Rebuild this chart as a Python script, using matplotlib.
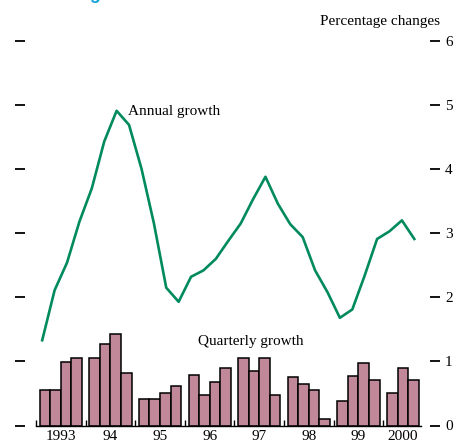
import matplotlib.pyplot as plt
from matplotlib.ticker import FixedLocator, NullFormatter

plt.rcParams['font.family'] = ['Liberation Serif', 'DejaVu Serif']

# quarterly data, 1993Q1 .. 2000Q3
years = [1993, 1994, 1995, 1996, 1997, 1998, 1999, 2000]
year_labels = ['1993', '94', '95', '96', '97', '98', '99', '2000']

quarterly = [0.55, 0.55, 0.99, 1.05,
             1.05, 1.27, 1.43, 0.82,
             0.41, 0.41, 0.51, 0.61,
             0.79, 0.47, 0.68, 0.89,
             1.05, 0.85, 1.05, 0.47,
             0.75, 0.65, 0.55, 0.10,
             0.38, 0.78, 0.98, 0.71,
             0.51, 0.89, 0.71]

annual = [1.33, 2.11, 2.54, 3.18,
          3.70, 4.43, 4.91, 4.69,
          4.01, 3.16, 2.15, 1.93,
          2.32, 2.42, 2.60, 2.88,
          3.15, 3.53, 3.88, 3.46,
          3.14, 2.94, 2.42, 2.08,
          1.68, 1.81, 2.34, 2.91,
          3.03, 3.20, 2.91]

green = '#008a5e'
mauve = '#c08898'

W, H = 456, 441
px = 72 / 100  # pixels -> points
fig = plt.figure(figsize=(W / 100, H / 100), dpi=100)
ax = fig.add_axes([36 / W, (H - 425.5) / H, 385 / W, 384.6 / H])

# bars: 4 per year, small gap between years
inset = 0.075
bw = (1 - 2 * inset) / 4
bar_x = []
line_x = []
for i in range(len(quarterly)):
    y, q = years[0] + i // 4, i % 4
    bar_x.append(y + inset + bw * (q + 0.5))
    line_x.append(y + (q + 0.5) / 4)

ax.bar(bar_x, quarterly, width=bw, color=mauve, edgecolor='black', linewidth=1.1, zorder=2)
ax.plot(line_x, annual, color=green, linewidth=1.9, zorder=3)

ax.set_xlim(1993, 2000.76)
ax.set_ylim(0, 6)

for s in ['top', 'left', 'right']:
    ax.spines[s].set_visible(False)
ax.spines['bottom'].set_linewidth(1.0)

# x axis: year separators as minor ticks pointing in, labels centred on bar groups
ax.xaxis.set_minor_locator(FixedLocator(years))
ax.xaxis.set_minor_formatter(NullFormatter())
label_pos = [y + 0.5 for y in years[:-1]] + [2000 + inset + 1.5 * bw]
ax.set_xticks(label_pos)
ax.set_xticklabels(year_labels, fontsize=11)
ax.tick_params(axis='x', which='major', length=0, pad=4 * px)
ax.tick_params(axis='x', which='minor', direction='in', length=6 * px, width=1.0)

# y ticks on both sides, set away from the plot
ax.set_yticks(range(7))
ax.tick_params(axis='y', which='major', left=True, right=True, labelleft=False,
               labelright=True, length=10 * px, width=1.3, pad=5 * px, labelsize=11)
ax.spines['left'].set_position(('outward', 11 * px))
ax.spines['right'].set_position(('outward', 9 * px))

fig.text(440 / W, 1 - 22 / H, 'Percentage changes', ha='right', va='center', fontsize=11)
ax.text(1994.85, 4.9, 'Annual growth', ha='left', va='center', fontsize=11)
ax.text(1997.33, 1.31, 'Quarterly growth', ha='center', va='center', fontsize=11)
# title sits mostly above the crop, as in the reference
fig.text(3 / W, 1 + 1.5 / H, 'Real GDP growth', ha='left', va='baseline', fontsize=13,
         fontweight='bold', color='#19a3dc', family=['Liberation Sans', 'DejaVu Sans'])

fig.savefig('out.png', dpi=100)
